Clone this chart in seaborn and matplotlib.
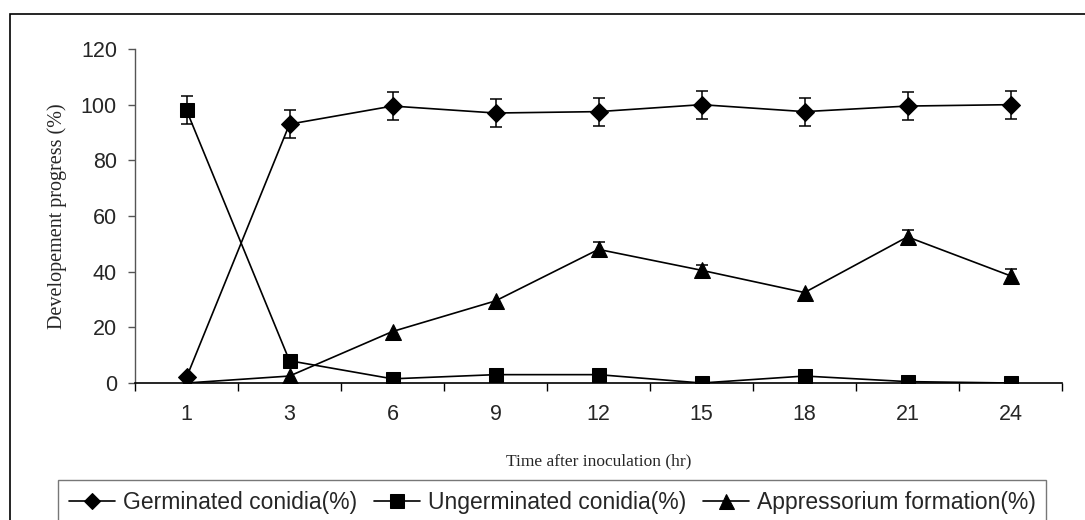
import numpy as np
import pandas as pd
import seaborn as sns
import matplotlib.pyplot as plt
from matplotlib.patches import Rectangle

# dados
tempos = ["1", "3", "6", "9", "12", "15", "18", "21", "24"]
germinados = [2, 93, 99.5, 97, 97.5, 100, 97.5, 99.5, 100]
germinados_erro = [0, 5, 5, 5, 5, 5, 5, 5, 5]
nao_germinados = [98, 8, 1.5, 3, 3, 0, 2.5, 0.5, 0]
nao_germinados_erro = [5, 0, 0, 0, 0, 0, 0, 0, 0]
apressorio = [0, 2.5, 18.5, 29.5, 48, 40.5, 32.5, 52.5, 38.5]
apressorio_erro = [0, 0, 0, 0, 2.5, 2, 0, 2.5, 2.5]

nomes = ["Germinated conidia(%)", "Ungerminated conidia(%)", "Appressorium formation(%)"]
marcadores = {nomes[0]: "D", nomes[1]: "s", nomes[2]: "^"}
tamanhos = {nomes[0]: 9.5, nomes[1]: 10.5, nomes[2]: 12}

pos = list(range(len(tempos)))
df = pd.DataFrame({
    "pos": pos * 3,
    "valor": germinados + nao_germinados + apressorio,
    "erro": germinados_erro + nao_germinados_erro + apressorio_erro,
    "serie": [nomes[0]] * 9 + [nomes[1]] * 9 + [nomes[2]] * 9,
})

sns.set_style("white")
plt.rcParams['font.family'] = ['Liberation Sans', 'DejaVu Sans']

fig = plt.figure(figsize=(10.85, 5.2), dpi=100)
ax = fig.add_axes([135 / 1085, 1 - 383 / 520, (1062 - 135) / 1085, (383 - 49) / 520])

for nome in nomes:
    sub = df[df["serie"] == nome]
    sns.lineplot(data=sub, x="pos", y="valor", ax=ax, color="black", lw=1.2,
                 marker=marcadores[nome], markersize=tamanhos[nome],
                 markeredgecolor="black", label=nome, errorbar=None)
    com_erro = sub[sub["erro"] > 0]
    ax.errorbar(com_erro["pos"], com_erro["valor"], yerr=com_erro["erro"],
                fmt="none", ecolor="black", elinewidth=1.1, capsize=4.5, capthick=1.1)

ax.set_xlim(-0.5, len(tempos) - 0.5)
ax.set_ylim(0, 120)
ax.set_yticks(np.arange(0, 121, 20))
ax.set_xticks(np.arange(-0.5, len(tempos), 1.0))
ax.set_xticklabels([])
ax.set_xticks(pos, minor=True)
ax.set_xticklabels(tempos, minor=True)
ax.tick_params(axis="x", which="major", direction="out", length=6, width=1, color="black")
ax.tick_params(axis="x", which="minor", length=0, pad=15, labelsize=15.5)
ax.tick_params(axis="y", direction="out", length=5, width=1, color="#555555", pad=8, labelsize=15.5)
ax.tick_params(left=True, bottom=True)

for lado in ["top", "right"]:
    ax.spines[lado].set_visible(False)
ax.spines["left"].set_color("#555555")
ax.spines["bottom"].set_color("black")
ax.spines["left"].set_linewidth(1)
ax.spines["bottom"].set_linewidth(1.2)

ax.set_xlabel("Time after inoculation (hr)", family="Liberation Serif", fontsize=12.5)
ax.set_ylabel("Developement progress (%)", family="Liberation Serif", fontsize=14.5)
ax.xaxis.set_label_coords(0.5, -0.21)
ax.yaxis.set_label_coords(-0.073, 0.5)

ax.get_legend().remove()
handles, labels = ax.get_legend_handles_labels()
leg = fig.legend(handles, labels, loc="upper center", bbox_to_anchor=(0.509, 0.076), ncol=3,
                 fontsize=16.5, frameon=True, fancybox=False, edgecolor="#555555",
                 markerscale=0.9, handlelength=2.0, handletextpad=0.35, columnspacing=0.75,
                 borderpad=0.45, borderaxespad=0)
leg.get_frame().set_linewidth(1)

# moldura externa
fig.patches.append(Rectangle((10 / 1085, -0.1), 1.2, 1.1 - 14 / 520, transform=fig.transFigure,
                             fill=False, edgecolor="black", lw=1.2))

fig.savefig("out.png", dpi=100)
